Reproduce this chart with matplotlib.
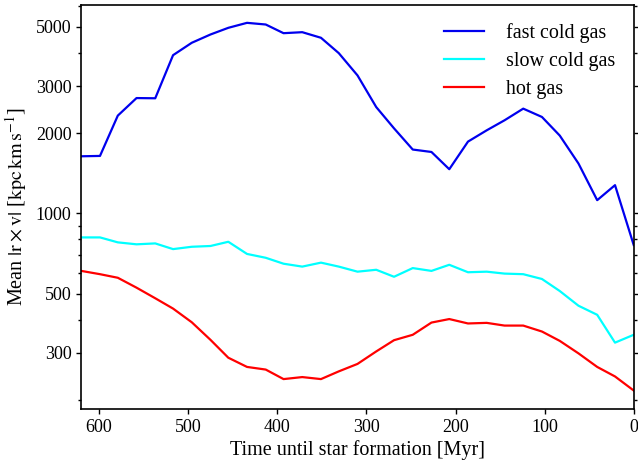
import matplotlib
matplotlib.use("Agg")
import matplotlib.pyplot as plt
from matplotlib.ticker import FixedLocator, FixedFormatter, NullFormatter

plt.rcParams["font.family"] = ["Liberation Serif", "DejaVu Serif"]
plt.rcParams["mathtext.fontset"] = "stix"

# Time until star formation [Myr] for each snapshot
time_myr = [620, 599, 579, 558, 537, 517, 496, 475, 455, 434, 413, 393, 372,
            351, 331, 310, 289, 269, 248, 227, 207, 186, 165, 145, 124, 103,
            83, 62, 41, 21, 0]

# Mean |r x v| in kpc km/s for the three gas phases
fast_cold = [1637, 1642, 2325, 2705, 2700, 3916, 4358, 4681, 4958, 5176, 5102,
             4734, 4775, 4550, 3985, 3289, 2503, 2083, 1735, 1699, 1464, 1858,
             2048, 2233, 2469, 2298, 1957, 1538, 1121, 1276, 761]
slow_cold = [813, 813, 779, 766, 772, 735, 750, 755, 783, 705, 682, 648, 632,
             654, 632, 605, 615, 579, 624, 609, 642, 602, 605, 595, 592, 568,
             512, 451, 417, 328, 351]
hot = [609, 592, 574, 527, 481, 440, 391, 336, 288, 266, 260, 239.5, 243.7,
       239.5, 256, 273, 304, 335, 351, 390, 402, 387, 389, 380, 380, 361, 333,
       299, 266, 245, 217]

major_ticks = [300, 500, 1000, 2000, 3000, 5000]
minor_ticks = [200, 400, 600, 700, 800, 900, 4000, 6000]

fig = plt.figure(figsize=(6.38, 4.75), dpi=100)
ax = fig.add_axes([0.1274, 0.1389, 0.8659, 0.8511])

ax.plot(time_myr, fast_cold, color="#0000ee", lw=1.6, label="fast cold gas")
ax.plot(time_myr, slow_cold, color="cyan", lw=1.6, label="slow cold gas")
ax.plot(time_myr, hot, color="red", lw=1.6, label="hot gas")

ax.set_yscale("log")
ax.set_xlim(620, 0)
ax.set_ylim(185, 6050)

ax.yaxis.set_major_locator(FixedLocator(major_ticks))
ax.yaxis.set_major_formatter(FixedFormatter([str(t) for t in major_ticks]))
ax.yaxis.set_minor_locator(FixedLocator(minor_ticks))
ax.yaxis.set_minor_formatter(NullFormatter())
ax.set_xticks([600, 500, 400, 300, 200, 100, 0])

ax.tick_params(axis="both", which="major", direction="out", length=3.5,
               width=1.0, labelsize=13)
ax.tick_params(axis="y", which="both", right=True)
ax.tick_params(axis="y", which="minor", direction="out", length=2.2, width=1.0)
for sp in ax.spines.values():
    sp.set_linewidth(1.2)

ax.set_xlabel("Time until star formation [Myr]", fontsize=14.5, labelpad=3)
ax.set_ylabel(r"Mean $|\mathrm{r}\times\mathrm{v}|$ [$\mathrm{kpc\,km\,s^{-1}}$]",
              fontsize=14.5, labelpad=5)

ax.legend(loc="upper right", frameon=False, fontsize=14.4, handlelength=2.0,
          handletextpad=1.1, labelspacing=0.45, borderaxespad=0.5)

fig.savefig("out.png", dpi=100)
plt.close(fig)
